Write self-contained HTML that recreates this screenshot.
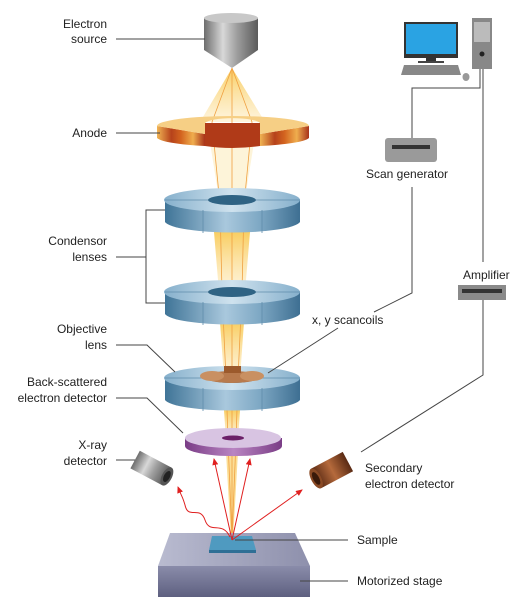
<!DOCTYPE html>
<html><head><meta charset="utf-8"><style>
html,body{margin:0;padding:0;background:#fff;}
svg{display:block;font-family:"Liberation Sans",Arial,sans-serif;font-size:12px;fill:#222;}
</style></head><body>
<svg width="527" height="612" viewBox="0 0 527 612" xmlns="http://www.w3.org/2000/svg">
<defs>
<linearGradient id="metal" x1="0" x2="1"><stop offset="0" stop-color="#6d6d6d"/><stop offset=".35" stop-color="#d8d8d8"/><stop offset=".6" stop-color="#a0a0a0"/><stop offset="1" stop-color="#5a5a5a"/></linearGradient>
<linearGradient id="blue" x1="0" x2="1"><stop offset="0" stop-color="#3f7497"/><stop offset=".45" stop-color="#a9c8dd"/><stop offset=".7" stop-color="#7ea8c4"/><stop offset="1" stop-color="#3e6f92"/></linearGradient>
<linearGradient id="bluetop" x1="0" x2="1"><stop offset="0" stop-color="#86b0cc"/><stop offset=".5" stop-color="#cfe2ee"/><stop offset="1" stop-color="#86b0cc"/></linearGradient>
<linearGradient id="orange" x1="0" x2="1"><stop offset="0" stop-color="#f0b453"/><stop offset=".3" stop-color="#b6421b"/><stop offset=".5" stop-color="#d3641f"/><stop offset=".75" stop-color="#efad4e"/><stop offset="1" stop-color="#a8321a"/></linearGradient>
<linearGradient id="beam" x1="0" y1="0" x2="0" y2="1"><stop offset="0" stop-color="#f8c850" stop-opacity=".9"/><stop offset="1" stop-color="#fde9b8" stop-opacity=".5"/></linearGradient>
<linearGradient id="purple" x1="0" x2="1"><stop offset="0" stop-color="#7a3d86"/><stop offset=".5" stop-color="#b985c2"/><stop offset="1" stop-color="#7a3d86"/></linearGradient>
<linearGradient id="brown" x1="0" x2="1"><stop offset="0" stop-color="#5a2a14"/><stop offset=".5" stop-color="#b56a3c"/><stop offset="1" stop-color="#5a2a14"/></linearGradient>
<linearGradient id="stage" x1="0" y1="0" x2="0" y2="1"><stop offset="0" stop-color="#8a8caa"/><stop offset="1" stop-color="#5e6080"/></linearGradient>
<linearGradient id="stagetop" x1="0" x2="1"><stop offset="0" stop-color="#b9bbd0"/><stop offset="1" stop-color="#8e90ac"/></linearGradient>
<marker id="ar" markerWidth="8" markerHeight="8" refX="6" refY="3" orient="auto"><path d="M0,0 L7,3 L0,6 z" fill="#e02020"/></marker>
</defs>

<!-- beams -->
<polygon points="232,68 200,122 265,122" fill="url(#beam)"/>
<polygon points="208,130 256,130 244,205 220,205" fill="#fdf1cf" opacity=".8"/>
<polygon points="214,232 250,232 245,292 219,292" fill="url(#beam)"/>
<polygon points="220,322 244,322 240,378 224,378" fill="url(#beam)"/>
<polygon points="224,410 240,410 238,440 226,440" fill="url(#beam)"/>
<polygon points="226,452 238,452 233,540 231,540" fill="#f8c850" opacity=".6"/>
<g stroke="#f0a040" stroke-width=".8" fill="none">
<path d="M232,68 L212,122 L220,205 L222,292 L226,378 L228,440 L232,540"/>
<path d="M232,68 L252,122 L244,205 L242,292 L238,378 L236,440 L232,540"/>
<path d="M232,68 L232,540"/>
</g>

<!-- electron source -->
<rect x="204" y="18" width="54" height="32" fill="url(#metal)"/>
<ellipse cx="231" cy="18" rx="27" ry="5" fill="#c8c8c8"/>
<polygon points="204,50 258,50 232,68" fill="url(#metal)"/>

<!-- anode -->
<path d="M157,126 L157,138 A76,10 0 0 0 205,146 L205,134 Z" fill="url(#orange)"/>
<path d="M260,134 L260,146 A76,10 0 0 0 309,138 L309,126 Z" fill="url(#orange)"/>
<path d="M205,123 L260,123 L260,146 Q232,150 205,146 Z" fill="#b03a18"/>
<path d="M157,126 A76,10 0 0 1 309,126 L260,134 L260,123 A28,6 0 0 0 205,123 L205,134 Z" fill="#f6cf85"/>

<!-- lens function -->
<g id="lens1">
<path d="M165,200 L165,222 A68,12 0 0 0 300,222 L300,200 Z" fill="url(#blue)"/>
<ellipse cx="232" cy="200" rx="68" ry="12" fill="url(#bluetop)"/>
<ellipse cx="232" cy="200" rx="24" ry="5" fill="#2f6384"/>
<g stroke="#5f8cab" stroke-width=".8"><line x1="203" y1="210" x2="203" y2="233"/><line x1="262" y1="210" x2="262" y2="233"/><line x1="165" y1="200" x2="208" y2="200"/><line x1="256" y1="200" x2="300" y2="200"/></g>
</g>
<use href="#lens1" transform="translate(0,92)"/>
<use href="#lens1" transform="translate(0,178)"/>

<!-- scancoils -->
<ellipse cx="232" cy="377" rx="28" ry="6" fill="#b87a4d"/>
<ellipse cx="212" cy="376" rx="12" ry="5" fill="#c99062"/>
<ellipse cx="252" cy="376" rx="12" ry="5" fill="#c99062"/>
<rect x="224" y="366" width="17" height="7" fill="#9c5a2c"/>

<!-- BSE detector -->
<path d="M185,438 L185,446 A48,10 0 0 0 282,446 L282,438 Z" fill="url(#purple)"/>
<ellipse cx="233" cy="438" rx="48" ry="10" fill="#d8c4e2"/>
<ellipse cx="233" cy="438" rx="11" ry="2.5" fill="#6b2068"/>

<!-- x-ray detector -->
<g transform="translate(151,468) rotate(28)">
<rect x="-18" y="-10" width="36" height="20" fill="url(#metal)" transform="rotate(90) rotate(-90)"/>
<ellipse cx="18" cy="0" rx="5" ry="10" fill="#555"/><ellipse cx="18" cy="0" rx="3" ry="6" fill="#222"/>
</g>
<!-- SE detector -->
<g transform="translate(332,470) rotate(-28)">
<rect x="-18" y="-11" width="36" height="22" fill="url(#brown)"/>
<ellipse cx="-18" cy="0" rx="5" ry="11" fill="#8a4a25"/><ellipse cx="-18" cy="0" rx="3" ry="7" fill="#3a1a0a"/>
</g>

<!-- stage -->
<polygon points="170,533 295,533 310,566 158,566" fill="url(#stagetop)"/>
<rect x="158" y="566" width="152" height="31" fill="url(#stage)"/>
<polygon points="212,536 252,536 256,550 209,550" fill="#4f9ac0"/>
<polygon points="209,550 256,550 256,553 209,553" fill="#2f6f95"/>

<!-- red arrows -->
<g stroke="#e02020" stroke-width="1" fill="none" marker-end="url(#ar)">
<line x1="232" y1="540" x2="214" y2="459"/>
<line x1="232" y1="540" x2="250" y2="459"/>
<line x1="232" y1="540" x2="302" y2="490"/>
<path d="M230,537 C222,520 210,535 205,520 C200,505 188,520 185,505 C182,495 183,500 178,487"/>
</g>

<!-- computer -->
<rect x="404" y="22" width="54" height="36" fill="#333"/>
<rect x="406" y="24" width="50" height="30" fill="#2aa3e3"/>
<rect x="426" y="58" width="10" height="4" fill="#333"/><rect x="418" y="61" width="26" height="2" fill="#444"/>
<polygon points="404,65 458,65 461,75 401,75" fill="#888"/>
<ellipse cx="466" cy="77" rx="3.5" ry="4" fill="#999"/>
<rect x="472" y="18" width="20" height="51" fill="#888"/><rect x="474" y="22" width="16" height="20" fill="#bbb"/><circ/>
<circle cx="482" cy="54" r="2.5" fill="#222"/>

<!-- scan generator & amplifier -->
<rect x="385" y="138" width="52" height="24" rx="3" fill="#9a9a9a"/>
<rect x="392" y="145" width="38" height="4" fill="#333"/>
<rect x="458" y="285" width="48" height="15" fill="#8a8a8a"/><rect x="462" y="289" width="40" height="4" fill="#333"/>

<!-- connector lines -->
<g stroke="#444" stroke-width="1" fill="none">
<line x1="116" y1="39" x2="205" y2="39"/>
<line x1="116" y1="133" x2="160" y2="133"/>
<polyline points="165,210 146,210 146,303 165,303"/>
<line x1="116" y1="257" x2="146" y2="257"/>
<polyline points="116,345 147,345 175,372"/>
<polyline points="116,398 147,398 183,433"/>
<line x1="116" y1="460" x2="135" y2="460"/>
<polyline points="480,69 480,88 412,88 412,138"/>
<polyline points="412,187 412,293 374,312"/>
<line x1="338" y1="328" x2="268" y2="373"/>
<line x1="483" y1="69" x2="483" y2="262"/>
<polyline points="483,300 483,375 361,452"/>
<line x1="235" y1="540" x2="348" y2="540"/>
<line x1="300" y1="581" x2="348" y2="581"/>
</g>

<!-- labels -->
<g text-anchor="end">
<text x="107" y="28">Electron</text><text x="107" y="43">source</text>
<text x="107" y="137">Anode</text>
<text x="107" y="245">Condensor</text><text x="107" y="261">lenses</text>
<text x="107" y="333">Objective</text><text x="107" y="349">lens</text>
<text x="107" y="386">Back-scattered</text><text x="107" y="402">electron detector</text>
<text x="107" y="449">X-ray</text><text x="107" y="465">detector</text>
</g>
<text x="366" y="178">Scan generator</text>
<text x="463" y="279">Amplifier</text>
<text x="312" y="324">x, y scancoils</text>
<text x="365" y="472">Secondary</text><text x="365" y="488">electron detector</text>
<text x="357" y="544">Sample</text>
<text x="357" y="585">Motorized stage</text>
</svg>
</body></html>
